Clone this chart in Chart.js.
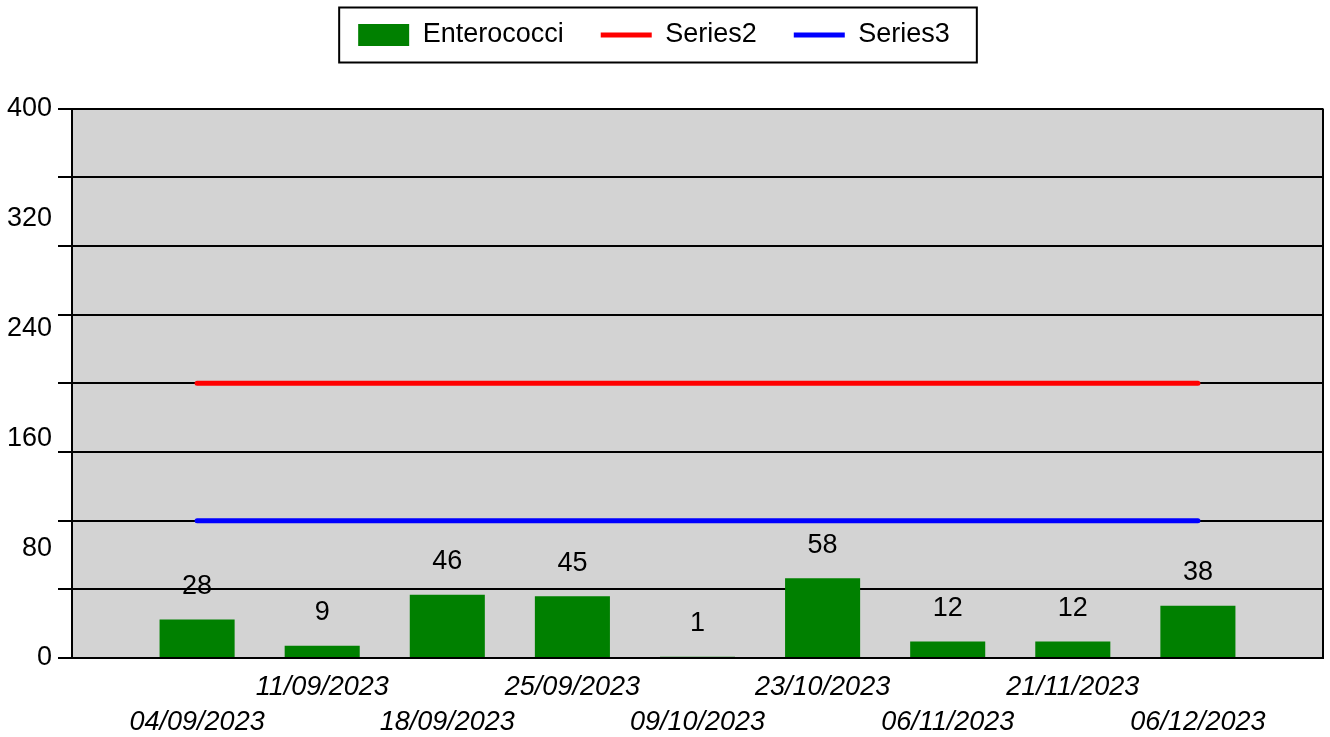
<!DOCTYPE html>
<html>
<head>
<meta charset="utf-8">
<script src="https://cdn.jsdelivr.net/npm/chart.js@4.4.1/dist/chart.umd.min.js"></script>
<style>
  html, body { margin: 0; padding: 0; background: #fff; }
  #wrap { width: 1330px; height: 737px; }
</style>
</head>
<body>
<div id="wrap"><canvas id="miGrafico"></canvas></div>
<script>
// datos
const fechas = ['04/09/2023', '11/09/2023', '18/09/2023', '25/09/2023', '09/10/2023',
  '23/10/2023', '06/11/2023', '21/11/2023', '06/12/2023'];
const enterococci = [28, 9, 46, 45, 1, 58, 12, 12, 38];
const series2 = [200, 200, 200, 200, 200, 200, 200, 200, 200];
const series3 = [100, 100, 100, 100, 100, 100, 100, 100, 100];
const yMin = 0;
const yMax = 400;

const FUENTE = "'Liberation Sans', Arial, sans-serif";
const TAM = 27;

// una categoria vacia a cada lado
const etiquetas = [''].concat(fechas, ['']);
const conHueco = arr => [null].concat(arr, [null]);

// fondo gris del area, marco derecho y marco de la leyenda
const fondoArea = {
  id: 'fondoArea',
  beforeDraw(chart) {
    const {ctx, chartArea: a} = chart;
    ctx.save();
    ctx.fillStyle = '#d3d3d3';
    ctx.fillRect(a.left, a.top, a.right - a.left, a.bottom - a.top);
    ctx.restore();
  },
  afterDraw(chart) {
    const {ctx, chartArea: a} = chart;
    ctx.save();
    ctx.strokeStyle = '#000';
    ctx.lineWidth = 2;
    ctx.beginPath();
    ctx.moveTo(a.right, a.top);
    ctx.lineTo(a.right, a.bottom + 1);
    ctx.stroke();

    const lg = chart.legend;
    if (lg && lg.legendHitBoxes && lg.legendHitBoxes.length) {
      const hb = lg.legendHitBoxes;
      const first = hb[0];
      const last = hb[hb.length - 1];
      const x0 = first.left - 19;
      const x1 = last.left + last.width + 27;
      const y0 = first.top - 14;
      const y1 = first.top + first.height + 14;
      ctx.lineWidth = 2;
      ctx.strokeRect(x0, y0, x1 - x0, y1 - y0);
    }
    ctx.restore();
  }
};

// valores encima de las barras
const valoresBarras = {
  id: 'valoresBarras',
  afterDatasetsDraw(chart) {
    const {ctx} = chart;
    const meta = chart.getDatasetMeta(0);
    const datos = chart.data.datasets[0].data;
    ctx.save();
    ctx.font = TAM + 'px ' + FUENTE;
    ctx.fillStyle = '#000';
    ctx.textAlign = 'center';
    ctx.textBaseline = 'middle';
    meta.data.forEach((bar, i) => {
      if (datos[i] == null) return;
      ctx.fillText(String(datos[i]), bar.x, bar.y - 33);
    });
    ctx.restore();
  }
};

const ctx = document.getElementById('miGrafico').getContext('2d');

new Chart(ctx, {
  data: {
    labels: etiquetas,
    datasets: [
      {
        type: 'bar',
        label: 'Enterococci',
        data: conHueco(enterococci),
        backgroundColor: '#008000',
        borderWidth: 0,
        pointStyle: 'rect',
        barPercentage: 0.6,
        categoryPercentage: 1
      },
      {
        type: 'line',
        label: 'Series2',
        data: conHueco(series2),
        borderColor: '#ff0000',
        backgroundColor: '#ff0000',
        borderWidth: 5,
        borderCapStyle: 'round',
        pointStyle: 'line',
        pointRadius: 0,
        pointHoverRadius: 0,
        pointBorderColor: '#ff0000',
        pointBorderWidth: 5,
        fill: false
      },
      {
        type: 'line',
        label: 'Series3',
        data: conHueco(series3),
        borderColor: '#0000ff',
        backgroundColor: '#0000ff',
        borderWidth: 5,
        borderCapStyle: 'round',
        pointStyle: 'line',
        pointRadius: 0,
        pointHoverRadius: 0,
        pointBorderColor: '#0000ff',
        pointBorderWidth: 5,
        fill: false
      }
    ]
  },
  options: {
    responsive: true,
    maintainAspectRatio: false,
    animation: false,
    layout: {
      padding: {top: -15.5, left: -15, right: 7, bottom: -15}
    },
    plugins: {
      legend: {
        display: true,
        position: 'top',
        labels: {
          color: '#000',
          font: {family: FUENTE, size: TAM},
          usePointStyle: true,
          pointStyleWidth: 51,
          boxHeight: 22,
          padding: 37
        }
      },
      // separador entre leyenda y grafico
      title: {
        display: true,
        text: '',
        weight: 500,
        font: {size: 10, lineHeight: 1.2},
        padding: {top: 19, bottom: 19}
      },
      tooltip: {enabled: false}
    },
    scales: {
      x: {
        type: 'category',
        offset: false,
        afterFit(scale) {
          scale.paddingLeft = 0;
          scale.paddingRight = 0;
        },
        grid: {display: false, drawTicks: false},
        border: {display: true, color: '#000', width: 2},
        ticks: {
          autoSkip: false,
          maxRotation: 0,
          minRotation: 0,
          padding: 12,
          color: '#000',
          font: {family: FUENTE, size: TAM, style: 'italic', lineHeight: 35 / TAM},
          callback: function(value, index) {
            const txt = this.getLabelForValue(value);
            if (!txt) return '';
            return index % 2 === 1 ? ['', txt] : txt;
          }
        }
      },
      y: {
        min: yMin,
        max: yMax,
        afterFit(scale) {
          scale.width = 87;
        },
        grid: {
          color: c => (c.tick && c.tick.value % 50 === 0) ? '#000' : 'rgba(0,0,0,0)',
          lineWidth: 2,
          drawTicks: true,
          tickLength: 14
        },
        border: {display: true, color: '#000', width: 2},
        ticks: {
          stepSize: 10,
          autoSkip: false,
          padding: 6,
          color: '#000',
          font: {family: FUENTE, size: TAM},
          callback: v => (v % 80 === 0 ? String(v) : '')
        }
      }
    }
  },
  plugins: [fondoArea, valoresBarras]
});
</script>
</body>
</html>
